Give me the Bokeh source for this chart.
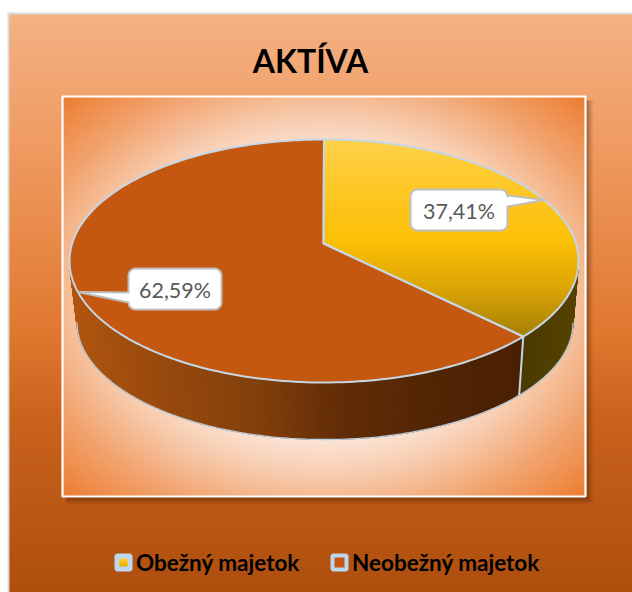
import numpy as np
from bokeh.embed import file_html
from bokeh.resources import INLINE
from bokeh.plotting import figure
from bokeh.core.properties import value

TITLE = "AKTÍVA"
CATEGORIES = ["Obežný majetok", "Neobežný majetok"]
VALUES = [37.41, 62.59]
LABELS = ["37,41%", "62,59%"]

W, H = 632, 592
p = figure(width=W, height=H, x_range=(0, W), y_range=(H, 0), output_backend="svg",
           toolbar_location=None, min_border=0, background_fill_color=None, border_fill_color=None,
           outline_line_color=None)
p.axis.visible = False
p.grid.visible = False


def rgb(h):
    h = h.lstrip("#")
    return [int(h[i:i + 2], 16) for i in (0, 2, 4)]


def ramp(t, stops, cols):
    c = np.array([rgb(x) for x in cols], float)
    return [np.interp(t, stops, c[:, i]) for i in range(3)]


def hexc(c):
    return "#%02x%02x%02x" % tuple(int(round(float(x))) for x in c)


def rgba_image(r, g, b):
    a = np.empty(r.shape, dtype=np.uint32)
    v = a.view(dtype=np.uint8).reshape(r.shape + (4,))
    v[..., 0], v[..., 1], v[..., 2], v[..., 3] = r, g, b, 255
    return a


# outer chart background: vertical gradient
L, T, R, B = 9, 14, 632, 592
ys = np.arange(T, B, 2)
r, g, b = ramp(ys, [14, 150, 330, 420, 592], ["#f4b183", "#ef9a60", "#e0782f", "#c9621d", "#ae4f0e"])
p.quad(left=7, right=R, top=12, bottom=B, fill_color="#d9d9d9", line_color=None)
p.quad(left=L, right=R, top=ys, bottom=ys + 2.5, fill_color=[hexc(c) for c in zip(r, g, b)], line_color=None)

# plot area shadow
AL, AT, AR, AB = 62, 96, 585, 496
for k, al in zip(range(8, 0, -1), [0.04, 0.05, 0.06, 0.07, 0.08, 0.09, 0.09, 0.09]):
    p.quad(left=AL + 4, right=AR + k, top=AT + 4, bottom=AB + k, fill_color="#3a1a00", fill_alpha=al, line_color=None)

# plot area: radial gradient
nx, ny = (AR - AL) // 2, (AB - AT) // 2
gx = (np.arange(nx) + 0.5) / nx * 2 - 1
gy = (np.arange(ny) + 0.5) / ny * 2 - 1
rr = np.sqrt(gx[None, :] ** 2 + gy[:, None] ** 2) / np.sqrt(2)
ir, ig, ib = ramp(rr, [0, 0.3, 0.5, 0.62, 0.8, 1], ["#ffffff", "#fffaf6", "#fce6d8", "#f8cfb3", "#f2a570", "#ed7d31"])
p.image_rgba(image=[rgba_image(ir, ig, ib)], x=AL, y=AT, dw=AR - AL, dh=AB - AT)
p.quad(left=AL, right=AR, top=AT, bottom=AB, fill_color=None, line_color="#ffffff", line_width=2.2)

# pie geometry (perspective disc)
TOP = dict(cx=323.5, cy=260.5, rx=254.5, ry=121.5)
BOT = dict(cx=324.5, cy=322.0, rx=248.0, ry=117.0)
D = -0.144


def rim(theta, g):
    u, v = np.sin(theta), -np.cos(theta)
    den = 1 + D * v
    return g["cx"] + g["rx"] * u * np.sqrt(1 - D ** 2) / den, g["cy"] + g["ry"] * (v + D) / den


APEX = (323.0, 243.0)
fr = np.array(VALUES) / sum(VALUES)
edges = np.concatenate([[0], np.cumsum(fr)]) * 2 * np.pi
EDGE = "#c6d6e4"

# walls
WX = [74, 150, 250, 340, 450, 520]
WC = ["#b0550f", "#9a4a0c", "#84400b", "#622c07", "#4f2303", "#4a2002"]
YX = [520, 575]
YC = ["#4a3900", "#564300"]
for i, (a0, a1) in enumerate(zip(edges[:-1], edges[1:])):
    th = np.arange(a0, a1, 0.012)
    th = np.append(th, a1)
    xs, ys_ = [], []
    cols = []
    for t0, t1 in zip(th[:-1], th[1:]):
        x0, y0 = rim(t0, TOP)
        x1, y1 = rim(t1, TOP)
        x2, y2 = rim(t1, BOT)
        x3, y3 = rim(t0, BOT)
        if (y0 + y1) / 2 < 255:
            continue
        xs.append([x0, x1, x2, x3])
        ys_.append([y0, y1, y2, y3])
        mx = (x0 + x1 + x2 + x3) / 4
        cols.append(hexc(ramp(mx, *((YX, YC) if i == 0 else (WX, WC)))))
    p.patches(xs, ys_, fill_color=cols, line_color=cols, line_width=1)

# wall outline (bottom rim), only the visible front arc
th = np.linspace(np.pi * 0.546, np.pi * 1.454, 300)
bx, by = rim(th, BOT)
p.line(bx, by, line_color="#b9d0e4", line_width=1.3)
# wall edge at slice boundary
ex0, ey0 = rim(edges[1], TOP)
ex1, ey1 = rim(edges[1], BOT)
p.line([ex0, ex1], [ey0, ey1], line_color=EDGE, line_width=2)


def sector(a0, a1):
    th = np.linspace(a0, a1, 200)
    x, y = rim(th, TOP)
    return np.concatenate([[APEX[0]], x]), np.concatenate([[APEX[1]], y])


def clip_band(px, py, y0, y1):
    def clip(pts, keep, cross):
        out = []
        for a, c in zip(pts, pts[1:] + pts[:1]):
            if keep(a):
                out.append(a)
            if keep(a) != keep(c):
                out.append(cross(a, c))
        return out

    def at(yv):
        return lambda a, c: (a[0] + (c[0] - a[0]) * (yv - a[1]) / (c[1] - a[1]), yv)

    pts = list(zip(px, py))
    pts = clip(pts, lambda a: a[1] >= y0, at(y0))
    if pts:
        pts = clip(pts, lambda a: a[1] <= y1, at(y1))
    return pts


def gradient_fill(px, py, stops, cols, step=2.0):
    xs, ys_, cs = [], [], []
    for y in np.arange(np.min(py), np.max(py), step):
        pts = clip_band(px, py, y, y + step + 0.6)
        if len(pts) < 3:
            continue
        xs.append([a[0] for a in pts])
        ys_.append([a[1] for a in pts])
        cs.append(hexc(ramp(y + step / 2, stops, cols)))
    p.patches(xs, ys_, fill_color=cs, line_color=None)


YS = [139, 180, 240, 285, 335]
YCOL = ["#fdd14a", "#fdc92c", "#fcc005", "#dda604", "#a58006"]

# top faces
sx, sy = sector(edges[1], edges[2])
p.patch(sx, sy, fill_color="#c45810", line_color=None)
yx, yy = sector(edges[0], edges[1])
gradient_fill(yx, yy, YS, YCOL)
p.patch(sx, sy, fill_color=None, line_color=EDGE, line_width=2, line_join="round")
p.patch(yx, yy, fill_color=None, line_color=EDGE, line_width=2, line_join="round")


def rounded(x0, y0, x1, y1, r):
    pts = []
    for cx_, cy_, a in [(x1 - r, y0 + r, -90), (x1 - r, y1 - r, 0), (x0 + r, y1 - r, 90), (x0 + r, y0 + r, 180)]:
        for d in np.linspace(a, a + 90, 7):
            pts.append((cx_ + r * np.cos(np.radians(d)), cy_ + r * np.sin(np.radians(d))))
    return pts


def callout(x0, y0, x1, y1, tip, base0, base1, side, text):
    pts = rounded(x0, y0, x1, y1, 7)
    tail = []
    if side == "right":
        idx = 7
        tail = [(x1, base0), tip, (x1, base1)]
    else:
        idx = 21
        tail = [(x0, base1), tip, (x0, base0)]
    pts = pts[:idx] + tail + pts[idx:]
    p.patch([a[0] for a in pts], [a[1] for a in pts], fill_color="#ffffff", line_color="#bfbfbf", line_width=2,
            line_join="round")
    p.text([(x0 + x1) / 2], [(y0 + y1) / 2 + 0.5], text=[text], text_font=value("Lato"), text_font_size="21.5px",
           text_color="#595959", text_align="center", text_baseline="middle")


mids = (edges[:-1] + edges[1:]) / 2
callout(410, 189, 507, 230, rim(mids[0], TOP), 195, 206, "right", LABELS[0])
callout(128, 268, 221, 309, rim(mids[1], TOP), 292, 302, "left", LABELS[1])

# title
p.text([310], [60], text=[TITLE], text_font=value("Lato"), text_font_style="bold", text_font_size="32px",
       text_color="#000000", text_align="center", text_baseline="middle")

# legend
LEG = [(114, 135.5), (330, 351.5)]
for i, ((mx, tx), name) in enumerate(zip(LEG, CATEGORIES)):
    pts = rounded(mx, 553, mx + 18, 571, 3)
    p.patch([a[0] for a in pts], [a[1] for a in pts], fill_color="#bdd7ee", line_color=None)
    if i == 0:
        gradient_fill(np.array([mx + 5, mx + 13, mx + 13, mx + 5.0]), np.array([558, 558, 566, 566.0]),
                      [558, 562, 566], ["#fdd14a", "#fcc005", "#e0a800"], step=1.0)
    else:
        p.quad(left=mx + 4, right=mx + 14, top=557, bottom=567, fill_color="#c45810", line_color=None)
    p.text([tx], [562], text=[name], text_font=value("Lato"), text_font_style="bold", text_font_size="22.5px",
           text_color="#000000", text_align="left", text_baseline="middle")

open("out.html", "w").write(file_html(p, INLINE))
